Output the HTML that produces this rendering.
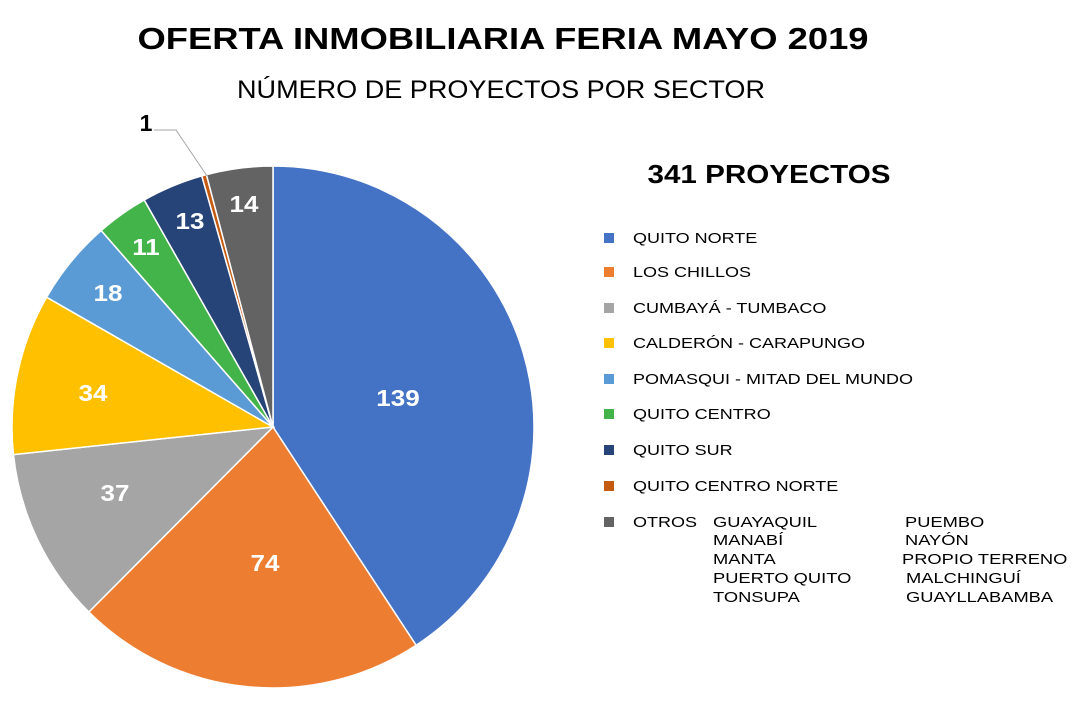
<!DOCTYPE html>
<html><head><meta charset="utf-8"><style>
body{margin:0;background:#fff;}
svg text{font-family:"Liberation Sans",Arial,sans-serif;}
</style></head><body>
<svg id="s" width="1082" height="700" xmlns="http://www.w3.org/2000/svg">
<rect width="1082" height="700" fill="#fff"/>
<text x="503" y="49" text-anchor="middle" font-size="31" font-weight="bold" fill="#000" textLength="731" lengthAdjust="spacingAndGlyphs">OFERTA INMOBILIARIA FERIA MAYO 2019</text>
<text x="501" y="98" text-anchor="middle" font-size="25" fill="#000" textLength="528" lengthAdjust="spacingAndGlyphs">NÚMERO DE PROYECTOS POR SECTOR</text>
<g id="pie"></g>
<g font-size="23" font-weight="bold" fill="#fff" text-anchor="middle" class="grp" data-f="1.13">
<text x="398" y="406">139</text>
<text x="265" y="571">74</text>
<text x="115" y="501">37</text>
<text x="93" y="401">34</text>
<text x="108" y="301">18</text>
<text x="146" y="255">11</text>
<text x="190" y="229">13</text>
<text x="244" y="212">14</text>
</g>
<polyline points="154,130 176,130 207,176" fill="none" stroke="#a6a6a6" stroke-width="1"/>
<text x="146" y="131" text-anchor="middle" font-size="23" font-weight="bold" fill="#000">1</text>
<text x="769" y="183" text-anchor="middle" font-size="26" font-weight="bold" fill="#000" textLength="243" lengthAdjust="spacingAndGlyphs">341 PROYECTOS</text>
<g id="leg" font-size="15" fill="#000"></g>
<g font-size="15" fill="#000" id="ot">
<text x="713" y="527">GUAYAQUIL</text>
<text x="713" y="545">MANABÍ</text>
<text x="713" y="564">MANTA</text>
<text x="713" y="583">PUERTO QUITO</text>
<text x="713" y="602">TONSUPA</text>
<text x="905" y="527">PUEMBO</text>
<text x="905" y="545">NAYÓN</text>
<text x="902" y="564">PROPIO TERRENO</text>
<text x="906" y="583">MALCHINGUÍ</text>
<text x="906" y="602">GUAYLLABAMBA</text>
</g>
</svg>
<script>
var d=[[139,"#4472c4","QUITO NORTE"],[74,"#ed7d31","LOS CHILLOS"],[37,"#a5a5a5","CUMBAYÁ - TUMBACO"],[34,"#ffc000","CALDERÓN - CARAPUNGO"],[18,"#5b9bd5","POMASQUI - MITAD DEL MUNDO"],[11,"#43b44a","QUITO CENTRO"],[13,"#264478","QUITO SUR"],[1,"#c55a11","QUITO CENTRO NORTE"],[14,"#636363","OTROS"]];
var cx=273,cy=427,r=261,a=0,t=341,ns="http://www.w3.org/2000/svg",g=document.getElementById("pie"),L=document.getElementById("leg");
var ys=[238,272,308,343,379,414,450,486,522];
d.forEach(function(e,i){var a2=a+e[0]/t*2*Math.PI;
var x1=cx+r*Math.sin(a),y1=cy-r*Math.cos(a),x2=cx+r*Math.sin(a2),y2=cy-r*Math.cos(a2);
var p=document.createElementNS(ns,"path");
p.setAttribute("d","M"+cx+","+cy+"L"+x1+","+y1+"A"+r+","+r+" 0 "+((a2-a)>Math.PI?1:0)+" 1 "+x2+","+y2+"Z");
p.setAttribute("fill",e[1]);p.setAttribute("stroke","#fff");p.setAttribute("stroke-width","1.5");g.appendChild(p);a=a2;
var rc=document.createElementNS(ns,"rect");rc.setAttribute("x",604);rc.setAttribute("y",ys[i]-5);rc.setAttribute("width",10);rc.setAttribute("height",10);rc.setAttribute("fill",e[1]);L.appendChild(rc);
var tx=document.createElementNS(ns,"text");tx.setAttribute("x",633);tx.setAttribute("y",ys[i]+5);tx.textContent=e[2];L.appendChild(tx);});
function st(sel,f){document.querySelectorAll(sel).forEach(function(el){var w=el.getComputedTextLength();el.setAttribute("textLength",(w*f).toFixed(1));el.setAttribute("lengthAdjust","spacingAndGlyphs");});}
st("#leg text",1.2);st("#ot text",1.22);st(".grp text",1.13);
</script>
</body></html>
